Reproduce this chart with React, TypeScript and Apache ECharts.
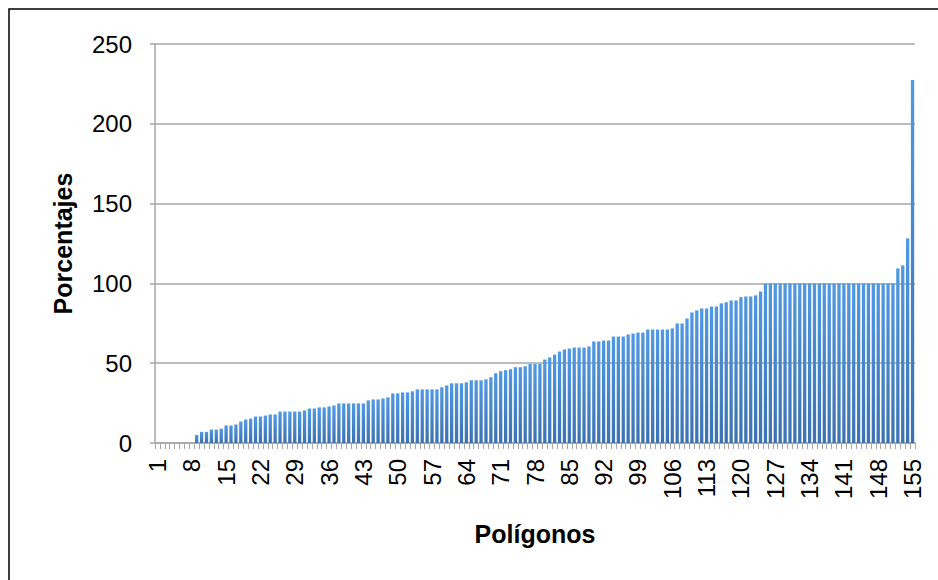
import React, { useEffect, useRef } from "react";
import * as echarts from "echarts";

const categories: string[] = Array.from({ length: 155 }, (_, i) => String(i + 1));

const values: number[] = [
  0, 0, 0, 0, 0, 0, 0, 0,
  5, 7, 7, 8.4, 8.4, 9, 11, 11, 11.6, 13.4, 14.7, 15.3, 16.6, 16.6, 17.2, 17.9, 17.9,
  19.7, 19.7, 19.7, 19.7, 19.7, 20.4, 21.6, 21.6, 22.3, 22.3, 22.9, 23.5, 24.8, 24.8, 24.8,
  24.8, 24.8, 24.8, 26.7, 27.3, 27.3, 27.9, 28.6, 31.1, 31.1, 31.7, 31.7, 32.4, 33.6, 33.6,
  33.6, 33.6, 33.6, 34.9, 36.1, 37.4, 37.4, 37.4, 38, 39.3, 39.3, 39.3, 39.9, 41.2, 43.7,
  45, 45.6, 46.2, 47.5, 47.5, 48.1, 49.5, 49.5, 49.5, 52.3,
  53.6, 55.4, 57.3, 58.6, 59.2, 59.8, 59.8, 59.8, 60.5, 63.6, 63.6, 64.2, 64.2, 66.7, 66.7,
  66.7, 68, 68.6, 69.2, 69.2, 71.1, 71.1, 71.1, 71.1, 71.1, 71.8, 74.9, 74.9, 78, 81.8,
  83.1, 84.3, 84.3, 85.6, 85.6, 87.5, 88.2, 89.3, 89.3, 91.4, 91.8, 91.8, 92.5, 95,
  100, 100, 100, 100, 100, 100, 100, 100, 100, 100, 100, 100, 100, 100, 100, 100, 100, 100,
  100, 100, 100, 100, 100, 100, 100, 100, 100,
  109.4, 111.3, 128.2, 227.4,
];

const yTicks = { min: 0, max: 250, interval: 50 };

export default function App() {
  const ref = useRef<HTMLDivElement>(null);
  useEffect(() => {
    if (!ref.current) return;
    const chart = echarts.init(ref.current, undefined, { renderer: "svg" });
    const font = "'Liberation Sans', Arial, sans-serif";
    chart.setOption({
      animation: false,
      backgroundColor: "#ffffff",
      graphic: [
        {
          type: "rect",
          shape: { x: 9, y: 9, width: 960, height: 700 },
          style: { fill: "none", stroke: "#000000", lineWidth: 1.5 },
          silent: true,
        },
      ],
      grid: { left: 155, right: 23, top: 44, bottom: 137, containLabel: false },
      xAxis: {
        type: "category",
        data: categories,
        boundaryGap: true,
        name: "Polígonos",
        nameLocation: "middle",
        nameGap: 78,
        nameTextStyle: { fontFamily: font, fontSize: 25, fontWeight: "bold", color: "#000" },
        axisLine: { lineStyle: { color: "#a6a6a6", width: 1.5 } },
        axisTick: { show: true, interval: 0, length: 6, lineStyle: { color: "#a6a6a6", width: 1 } },
        axisLabel: {
          interval: 6,
          rotate: 90,
          margin: 16,
          fontFamily: font,
          fontSize: 24,
          color: "#000",
        },
        splitLine: { show: false },
      },
      yAxis: {
        type: "value",
        min: yTicks.min,
        max: yTicks.max,
        interval: yTicks.interval,
        name: "Porcentajes",
        nameLocation: "middle",
        nameGap: 80,
        nameRotate: 90,
        nameTextStyle: { fontFamily: font, fontSize: 25, fontWeight: "bold", color: "#000" },
        axisLine: { show: true, lineStyle: { color: "#a6a6a6", width: 1.5 } },
        axisTick: { show: true, length: 5, lineStyle: { color: "#a6a6a6", width: 1.5 } },
        axisLabel: { margin: 23, fontFamily: font, fontSize: 24, color: "#000" },
        splitLine: { show: true, lineStyle: { color: "#a6a6a6", width: 1.5 } },
      },
      series: [
        {
          type: "bar",
          data: values,
          barCategoryGap: "33%",
          itemStyle: {
            color: new echarts.graphic.LinearGradient(0, 0, 0, 1, [
              { offset: 0, color: "#5099e3" },
              { offset: 1, color: "#3c72b0" },
            ]),
          },
        },
      ],
    });
    return () => chart.dispose();
  }, []);
  return (
    <div
      ref={ref}
      style={{ position: "fixed", left: 0, top: 0, width: 938, height: 580 }}
    />
  );
}
